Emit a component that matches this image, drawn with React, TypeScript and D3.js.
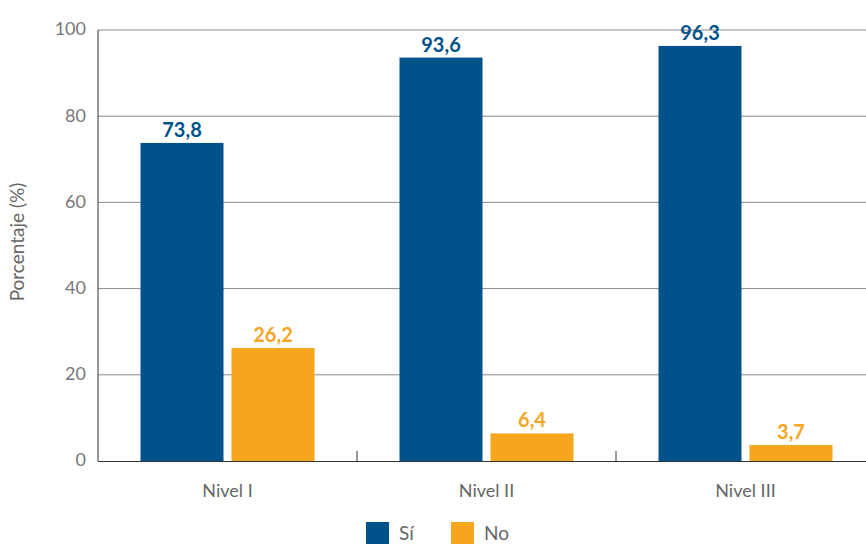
import * as d3 from 'd3';

const categories = ['Nivel I', 'Nivel II', 'Nivel III'];
const series = ['Sí', 'No'];
const siValues = [73.8, 93.6, 96.3];
const noValues = [26.2, 6.4, 3.7];
const yTicks = [0, 20, 40, 60, 80, 100];

const colors: Record<string, string> = { 'Sí': '#00538a', 'No': '#f6a51f' };
const font = "Lato, 'Noto Sans', sans-serif";

export default function App() {
  const width = 866;
  const height = 544;
  const left = 98;
  const top = 30;
  const bottom = 461;

  const x = d3.scaleBand<string>().domain(categories).range([left, left + 259 * 3]);
  const y = d3.scaleLinear().domain([0, 100]).range([bottom, top]);
  const barW = 83;
  const gap = 8;
  const inner = d3.scaleBand<string>().domain(series).range([0, barW * 2 + gap]).paddingInner(gap / (barW + gap));

  const fmt = (v: number) => v.toFixed(1).replace('.', ',');
  const rows = categories.map((c, i) => ({ cat: c, 'Sí': siValues[i], 'No': noValues[i] }));

  return (
    <svg width={width} height={height} style={{ position: 'absolute', left: 0, top: 0, fontFamily: font }}>
      {yTicks.filter(t => t > 0).map(t => (
        <line key={t} x1={left} x2={width} y1={y(t)} y2={y(t)} stroke="#8a8a8a" strokeWidth={1} />
      ))}
      {yTicks.map(t => (
        <text key={t} x={86} y={y(t) - 1} dy="0.35em" textAnchor="end" fontSize={18} fill="#777" fontWeight={400}>{t}</text>
      ))}
      <text transform={`translate(24,242) rotate(-90)`} textAnchor="middle" fontSize={19} fill="#666" fontWeight={400}>Porcentaje (%)</text>

      {rows.map(r => {
        const gx = x(r.cat)! + x.bandwidth() / 2 - (barW * 2 + gap) / 2;
        return series.map(s => {
          const v = r[s as 'Sí' | 'No'];
          const bx = gx + inner(s)!;
          return (
            <g key={r.cat + s}>
              <rect x={bx} y={y(v)} width={inner.bandwidth()} height={bottom - y(v)} fill={colors[s]} />
              <text x={bx + inner.bandwidth() / 2} y={y(v) - 6} textAnchor="middle" fontSize={20} fontWeight={700} fill={colors[s]}>{fmt(v)}</text>
            </g>
          );
        });
      })}

      <line x1={left} x2={left} y1={top} y2={bottom} stroke="#333" strokeWidth={1} />
      <line x1={left} x2={width} y1={bottom + 0.5} y2={bottom + 0.5} stroke="#333" strokeWidth={1} />
      {categories.slice(1).map(c => (
        <line key={c} x1={x(c)!} x2={x(c)!} y1={bottom} y2={bottom - 10} stroke="#333" strokeWidth={1} />
      ))}
      {categories.map(c => (
        <text key={c} x={x(c)! + x.bandwidth() / 2} y={497} textAnchor="middle" fontSize={18} fill="#666" fontWeight={400}>{c}</text>
      ))}

      {series.map((s, i) => (
        <g key={s} transform={`translate(${366 + i * 85},522)`}>
          <rect width={23} height={22} fill={colors[s]} />
          <text x={33} y={11} dy="0.35em" fontSize={19} fill="#666" fontWeight={400}>{s}</text>
        </g>
      ))}
    </svg>
  );
}
